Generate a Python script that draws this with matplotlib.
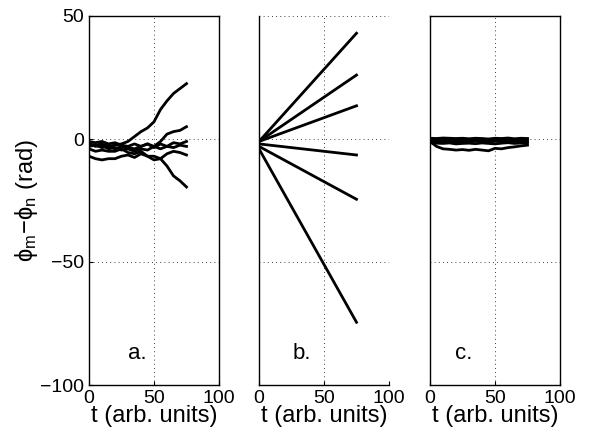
import numpy as np
import matplotlib.pyplot as plt

plt.rcParams["font.family"] = ["Liberation Sans", "DejaVu Sans"]
plt.rcParams["mathtext.fontset"] = "custom"
plt.rcParams["mathtext.rm"] = "Liberation Sans"
plt.rcParams["mathtext.it"] = "Liberation Sans"

# time samples for panels a and c
t = [0, 5, 10, 15, 20, 25, 30, 35, 40, 45, 50, 55, 60, 65, 70, 75]

# panel a: phase differences drifting apart
a_curves = [
    [-2, -2.5, -2, -3, -2.5, -2, -1, 1, 3, 4.5, 7, 12, 15.5, 18.5, 20.5, 22.5],
    [-1, -1.5, -1, -2, -1.5, -2.5, -3, -2, -3, -2, -3, -1, 2, 3, 3.5, 5],
    [-3, -2.5, -3.5, -3, -4, -3, -3.5, -4, -3, -2, -3.5, -2, -3, -1.5, -2, -1],
    [-2, -3, -2.5, -4, -3.5, -4.5, -4, -5, -4, -4.5, -3, -4, -3, -3.5, -2.5, -3],
    [-7, -8, -8.5, -8, -8, -7, -6.5, -7.5, -6, -7, -8.5, -8, -6, -5, -5.5, -6.5],
    [-4, -5, -4.5, -5, -5, -4, -5.5, -6, -5, -7, -7, -8, -11, -15, -17, -19.5],
]

# panel b: straight lines (start and end values)
t_b = [0, 75]
b_curves = [
    [-1, 43],
    [-1, 26],
    [-1, 13.5],
    [-2, -6.5],
    [-3, -24.5],
    [-4, -74.5],
]

# panel c: locked phases
c_curves = [
    [0.3, 0.2, 0.4, 0.3, 0.2, 0.3, 0.1, 0.3, 0.2, 0, 0.3, 0.2, 0.4, 0.1, 0.3, 0.2],
    [-0.5, -0.4, -0.6, -0.5, -0.3, -0.6, -0.4, -0.5, -0.7, -0.3, -0.5, -0.4, -0.6, -0.3, -0.5, -0.4],
    [-1, -1.2, -0.9, -1.1, -1.3, -1, -1.2, -0.8, -1.1, -1.3, -0.9, -1, -1.2, -0.9, -1.1, -1],
    [-1.5, -1.7, -1.8, -1.6, -2, -1.8, -1.7, -1.9, -1.6, -1.8, -2, -1.7, -1.5, -1.8, -1.6, -1.7],
    [-1, -3, -4, -4.2, -4.5, -4.3, -4.6, -4.2, -4.5, -4.8, -3.8, -4, -3.5, -3.2, -2.8, -2.5],
]

xticks = [0, 50, 100]
yticks = [-100, -50, 0, 50]
panel_labels = ["a.", "b.", "c."]

fig = plt.figure(figsize=(5.91, 4.37), dpi=100)

lefts = [89 / 591, 259 / 591, 430 / 591]
bottom = 52 / 437
width = 130 / 591
height = 369 / 437

panels = [(t, a_curves), (t_b, b_curves), (t, c_curves)]
label_x = [30, 26, 19]

for i, (tt, curves) in enumerate(panels):
    ax = fig.add_axes([lefts[i], bottom, width, height])
    for y in curves:
        ax.plot(tt, y, color="black", linewidth=2)

    ax.set_xlim(0, 100)
    ax.set_ylim(-100, 50)
    ax.set_xticks(xticks)
    ax.set_yticks(yticks)
    ax.grid(True, linestyle=(0, (1, 4)), color="black", linewidth=0.6)
    ax.tick_params(direction="in", length=3, labelsize=14, color="black")
    ax.set_xlabel("t (arb. units)", fontsize=17, labelpad=-1)

    if i == 0:
        ax.set_ylabel(r"$\phi_m\!-\!\phi_n$ (rad)", fontsize=17, labelpad=0)
    else:
        ax.set_yticklabels([])
        ax.tick_params(axis="y", length=0)

    if i == 1:
        ax.spines["top"].set_visible(False)
        ax.spines["right"].set_visible(False)

    for s in ax.spines.values():
        s.set_linewidth(1)

    ax.text(label_x[i], -87, panel_labels[i], fontsize=16, va="center")

plt.savefig("out.png", dpi=100)
plt.close()
